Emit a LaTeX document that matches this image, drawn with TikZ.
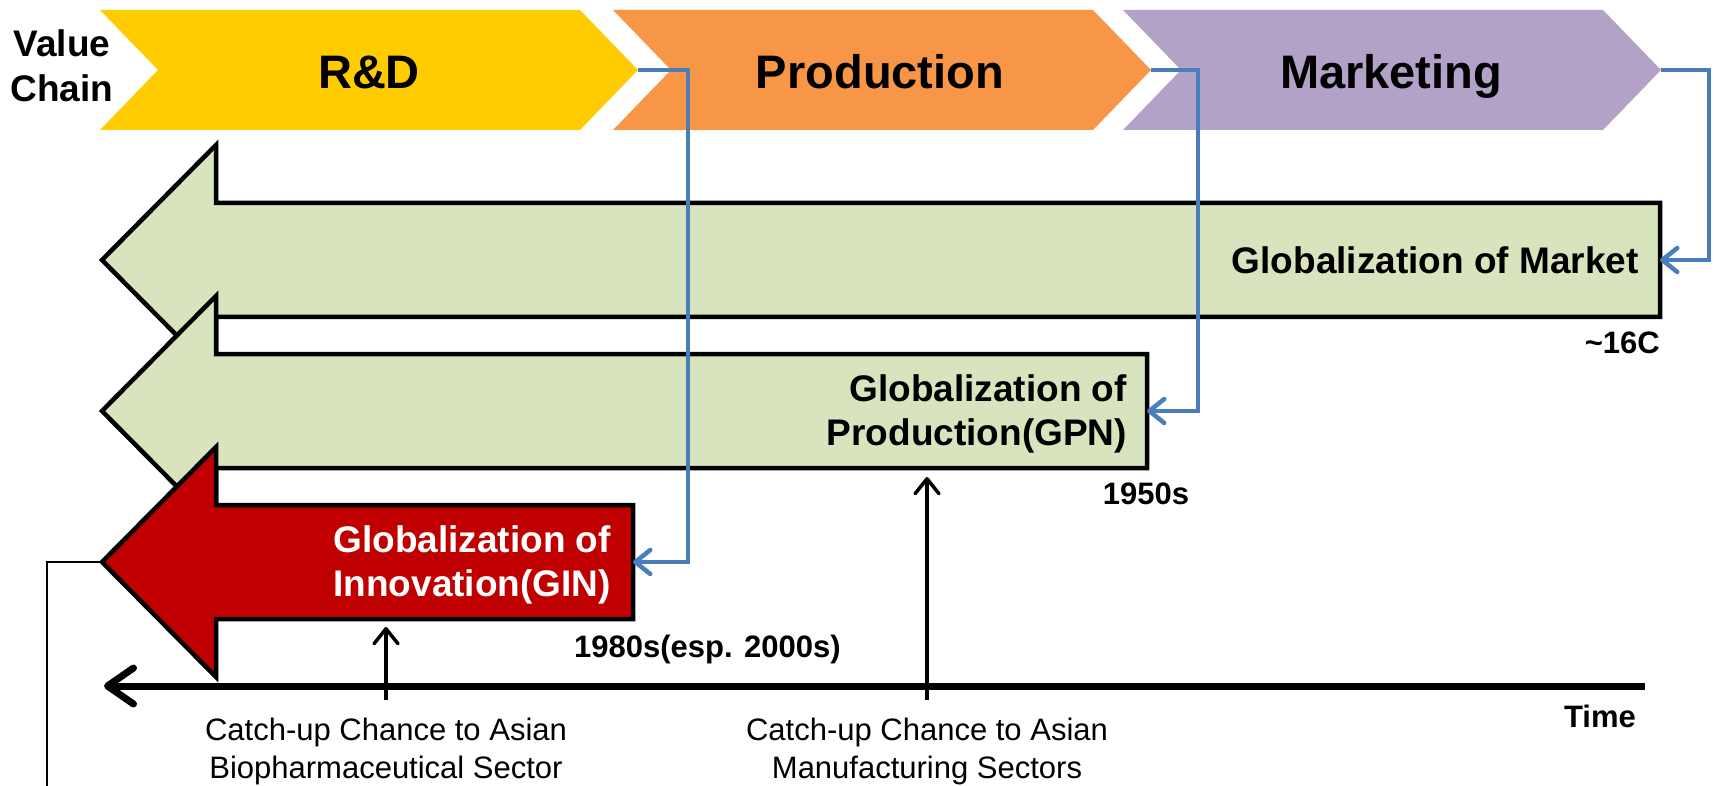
\documentclass[tikz,border=0pt]{standalone}
\usepackage{fontspec}
\setmainfont{Liberation Sans}
\usetikzlibrary{arrows.meta}
\definecolor{cyel}{HTML}{FFCC00}
\definecolor{corg}{HTML}{F79646}
\definecolor{cpur}{HTML}{B3A2C7}
\definecolor{cgrn}{HTML}{D7E4BD}
\definecolor{cred}{HTML}{C00000}
\definecolor{cblu}{HTML}{4A7EBB}
\begin{document}
\begin{tikzpicture}[x=1pt,y=-1pt,
  chevlab/.style={inner sep=0pt,anchor=base,font=\fontsize{47}{56}\selectfont\bfseries},
  bigarrow/.style={draw=black,line width=4.5pt,line join=miter},
  glab/.style={inner sep=0pt,font=\fontsize{37}{44}\selectfont\bfseries},
  yearlab/.style={inner sep=0pt,font=\fontsize{31}{37}\selectfont\bfseries},
  catchlab/.style={inner sep=0pt,align=center,font=\fontsize{31}{38}\selectfont},
  blueconn/.style={draw=cblu,line width=4.5pt,-{Straight Barb[length=15pt,width=24pt,round]}},
  uparrow/.style={draw=black,line width=3.5pt,-{Straight Barb[length=15pt,width=24pt,round]}},
]
\useasboundingbox (0,0) rectangle (1716,786);
% value chain chevrons
\fill[cyel] (100,10) -- (580,10) -- (638,70) -- (580,130) -- (100,130) -- (158,70) -- cycle;
\fill[corg] (613,10) -- (1093,10) -- (1151,70) -- (1093,130) -- (613,130) -- (671,70) -- cycle;
\fill[cpur] (1123,10) -- (1603,10) -- (1661,70) -- (1603,130) -- (1123,130) -- (1181,70) -- cycle;
\coordinate (rdtip) at (638,70);
\coordinate (prtip) at (1151,70);
\coordinate (mktip) at (1661,70);
\node[inner sep=0pt,align=center,font=\fontsize{37}{45}\selectfont\bfseries] (vc) at (62,66) {Value\\Chain};
\node[chevlab] (rd) at (369,89) {R\&D};
\node[chevlab] (pr) at (880,89) {Production};
\node[chevlab] (mk) at (1391,89) {Marketing};
% globalization arrows
\draw[bigarrow,fill=cgrn] (1660,203) -- (216,203) -- (216,145) -- (102,260) -- (216,375) -- (216,317) -- (1660,317) -- cycle;
\coordinate (mktend) at (1660,260);
\draw[bigarrow,fill=cgrn] (1147,354) -- (216,354) -- (216,296) -- (102,411) -- (216,526) -- (216,468) -- (1147,468) -- cycle;
\coordinate (gpnend) at (1147,411);
\draw[bigarrow,fill=cred] (633,505) -- (216,505) -- (216,447) -- (102,562) -- (216,677) -- (216,619) -- (633,619) -- cycle;
\coordinate (ginend) at (633,562);
\coordinate (gintip) at (102,562);
\node[glab,anchor=base east] (gom) at (1639,274) {Globalization of Market};
\node[glab,anchor=east,align=right] (gop) at (1127,414) {Globalization of\\Production(GPN)};
\node[glab,anchor=east,align=right,text=white] (goi) at (611,565) {Globalization of\\Innovation(GIN)};
% years
\node[yearlab,anchor=base east] (y16) at (1660,353) {\textasciitilde16C};
\node[yearlab,anchor=base] (y50) at (1146,504) {1950s};
\node[yearlab,anchor=base west] (y80) at (574,657) {1980s(esp. 2000s)};
% blue connectors
\draw[blueconn] (rdtip) -- ++(50,0) |- (ginend);
\draw[blueconn] (prtip) -- ++(47,0) |- (gpnend);
\draw[blueconn] (mktip) -- ++(48,0) |- (mktend);
% time axis
\coordinate (tright) at (1645,686);
\coordinate (tleft) at (104,686);
\draw[line width=7pt,-{Straight Barb[length=26pt,width=36pt,round]}] (tright) -- (tleft);
\node[yearlab,anchor=base east] (time) at (1636,727) {Time};
% catch-up
\coordinate (c1b) at (386,700);
\coordinate (c1t) at (386,627);
\coordinate (c2b) at (927,700);
\coordinate (c2t) at (927,477);
\draw[uparrow] (c1b) -- (c1t);
\draw[uparrow] (c2b) -- (c2t);
\node[catchlab] (cbio) at (386,751) {Catch-up Chance to Asian\\Biopharmaceutical Sector};
\node[catchlab] (cman) at (927,751) {Catch-up Chance to Asian\\Manufacturing Sectors};
% left connector
\coordinate (lbot) at (47,790);
\draw[line width=2pt] (gintip) -- (gintip -| lbot) -- (lbot);
\end{tikzpicture}
\end{document}
